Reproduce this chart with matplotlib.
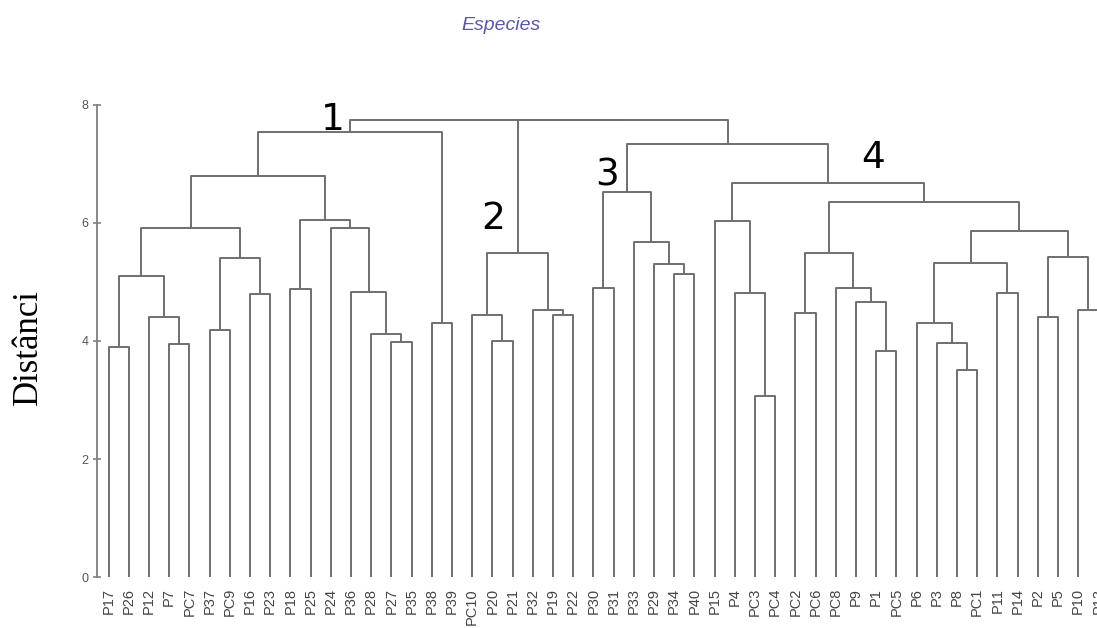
import matplotlib
matplotlib.use("Agg")
import matplotlib.pyplot as plt

# ---------------- data ----------------
leaves = ["P17", "P26", "P12", "P7", "PC7", "P37", "PC9", "P16", "P23", "P18",
          "P25", "P24", "P36", "P28", "P27", "P35", "P38", "P39", "PC10", "P20",
          "P21", "P32", "P19", "P22", "P30", "P31", "P33", "P29", "P34", "P40",
          "P15", "P4", "PC3", "PC4", "PC2", "PC6", "PC8", "P9", "P1", "PC5",
          "P6", "P3", "P8", "PC1", "P11", "P14", "P2", "P5", "P10", "P13"]

# merge k creates cluster "C<k>" from merge_a[k] and merge_b[k] at merge_h[k]
merge_a = ["P17", "P7", "P12", "C0", "P37", "P16", "C4", "C3", "P18", "P27",
           "P28", "P36", "P24", "C8", "C7", "P38", "C14", "P20", "PC10", "P19",
           "P32", "C18", "P30", "P34", "P29", "P33", "C22", "PC3", "P4", "P15",
           "PC2", "P1", "P9", "PC8", "C30", "P8", "P3", "P6", "P11", "C37",
           "P2", "P10", "C40", "C39", "C34", "C29", "C26", "C21", "C16"]
merge_b = ["P26", "PC7", "C1", "C2", "PC9", "P23", "C5", "C6", "P25", "P35",
           "C9", "C10", "C11", "C12", "C13", "P39", "C15", "P21", "C17", "P22",
           "C19", "C20", "P31", "P40", "C23", "C24", "C25", "PC4", "C27", "C28",
           "PC6", "PC5", "C31", "C32", "C33", "PC1", "C35", "C36", "P14", "C38",
           "P5", "P13", "C41", "C42", "C43", "C44", "C45", "C46", "C47"]
merge_h = [3.90, 3.95, 4.41, 5.10, 4.19, 4.80, 5.41, 5.91, 4.88, 3.99,
           4.12, 4.83, 5.91, 6.05, 6.80, 4.30, 7.54, 4.00, 4.44, 4.44,
           4.53, 5.49, 4.90, 5.13, 5.30, 5.68, 6.53, 3.06, 4.81, 6.03,
           4.48, 3.83, 4.66, 4.90, 5.49, 3.51, 3.97, 4.31, 4.81, 5.32,
           4.41, 4.53, 5.42, 5.86, 6.35, 6.68, 7.34, 7.74, 7.75]

y_ticks = [0, 2, 4, 6, 8]
group_labels = ["1", "2", "3", "4"]

# ---------------- figure ----------------
W, H = 1097, 628
fig = plt.figure(figsize=(W / 100, H / 100), dpi=100)

x0_px, dx_px = 108.5, 20.2          # pixel of leaf 0 and spacing
spine_px = 97
y0_px, y8_px = 577, 105
xmin = (spine_px - x0_px) / dx_px
xmax = 49.6
ax_left = spine_px / W
ax_width = (xmax - xmin) * dx_px / W
ax_bottom = (H - y0_px) / H
ax_height = (y0_px - y8_px) / H
ax = fig.add_axes([ax_left, ax_bottom, ax_width, ax_height])
ax.set_xlim(xmin, xmax)
ax.set_ylim(0, 8)

pos = {name: (float(i), 0.0) for i, name in enumerate(leaves)}
line_col = "#6f6f6f"
for k, (a, b, h) in enumerate(zip(merge_a, merge_b, merge_h)):
    xa, ha = pos[a]
    xb, hb = pos[b]
    ax.plot([xa, xa, xb, xb], [ha, h, h, hb], color=line_col, lw=1.4,
            solid_capstyle="butt", clip_on=False)
    pos["C%d" % k] = ((xa + xb) / 2.0, h)

for s in ["top", "right", "bottom"]:
    ax.spines[s].set_visible(False)
ax.spines["left"].set_color("#808080")
ax.spines["left"].set_linewidth(1.3)
ax.set_yticks(y_ticks)
ax.set_yticklabels([str(t) for t in y_ticks], family="Liberation Sans",
                   fontsize=9, color="#555555")
ax.tick_params(axis="y", direction="inout", length=6, width=1.2,
               color="#808080", pad=3)
ax.set_xticks(range(len(leaves)))
ax.set_xticklabels(leaves, rotation=90, family="Liberation Sans",
                   fontsize=10.5, color="#444444")
ax.tick_params(axis="x", length=0, pad=8)

# title
fig.text(501 / W, 1 - 26 / H, "Especies", ha="center", va="center",
         family="Liberation Sans", style="italic", fontsize=14,
         color="#5858ad")

# y label
fig.text(28 / W, 1 - 347 / H, "Distânci", rotation=90, ha="center",
         va="center", family="Liberation Serif", fontsize=25, color="black")

# group numbers
num_pos = [(333, 120), (493, 219), (607, 175), (873, 158)]
for lab, (px, py) in zip(group_labels, num_pos):
    fig.text(px / W, 1 - py / H, lab, ha="center", va="center",
             family="DejaVu Sans", fontsize=27, color="black")

fig.savefig("out.png", dpi=100)
